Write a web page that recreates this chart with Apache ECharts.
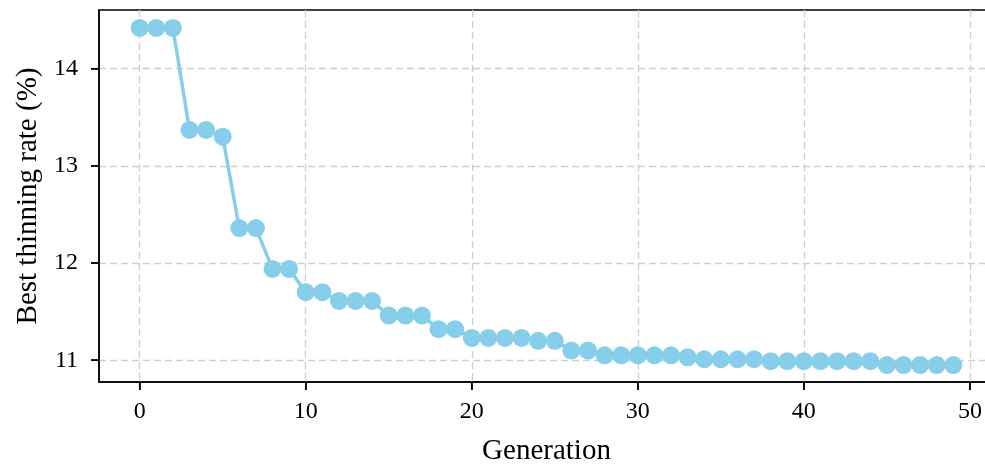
<!DOCTYPE html>
<html lang="en">
  <head>
    <meta charset="UTF-8" />
    <script src="https://cdn.jsdelivr.net/npm/echarts@6/dist/echarts.min.js"></script>
    <title>Best thinning rate</title>
    <style>
      html, body { margin: 0; padding: 0; background: #fff; }
    </style>
  </head>
  <body>
    <div id="app" style="width: 985px; height: 464px"></div>

    <script>
      // 每一代的最优稀疏率
      const generations = Array.from({ length: 50 }, (_, i) => i);
      const bestRate = [
        14.42, 14.42, 14.42, 13.37, 13.37, 13.30, 12.36, 12.36, 11.94, 11.94,
        11.70, 11.70, 11.61, 11.61, 11.61, 11.46, 11.46, 11.46, 11.32, 11.32,
        11.23, 11.23, 11.23, 11.23, 11.20, 11.20, 11.10, 11.10, 11.05, 11.05,
        11.05, 11.05, 11.05, 11.03, 11.01, 11.01, 11.01, 11.01, 10.99, 10.99,
        10.99, 10.99, 10.99, 10.99, 10.99, 10.95, 10.95, 10.95, 10.95, 10.95,
      ];
      const xTicks = [0, 10, 20, 30, 40, 50];
      const yTicks = [11, 12, 13, 14];

      const xMin = -2.45, xMax = 51.45;
      const yMin = 10.776, yMax = 14.604;

      const font = "'Liberation Serif', 'DejaVu Serif', serif";
      const gridLine = { color: "#cfcfcf", width: 1.3, type: [7, 4] };
      const spine = { show: true, onZero: false, lineStyle: { color: "#000", width: 1.5 } };
      const tick = { show: true, length: 8, inside: false, lineStyle: { color: "#000", width: 1.5 } };
      const tickLen = 8;

      // 刻度线用 custom 系列补画（朝外），位置由坐标轴换算
      const tickData = xTicks.map((v) => [v, yMin, 0]).concat(yTicks.map((v) => [xMin, v, 1]));

      const echart = echarts.init(document.getElementById("app"), null, { renderer: "canvas" });
      echart.setOption({
        animation: false,
        backgroundColor: "#fff",
        grid: {
          left: 99,
          top: 10,
          width: 895,
          height: 380,
          // 底部被 outerBounds 压回到 382 左右；右边超出画布，像原图那样被裁掉
          outerBounds: { left: -100, top: -100, right: -30, bottom: -7 },
          show: true,
          borderColor: "#000",
          borderWidth: 1.5,
          backgroundColor: "transparent",
        },
        xAxis: {
          type: "value",
          min: xMin,
          max: xMax,
          name: "Generation",
          nameLocation: "middle",
          nameGap: 55,
          nameTextStyle: { fontFamily: font, fontSize: 29, color: "#000" },
          axisLine: spine,
          axisTick: Object.assign({ customValues: xTicks }, tick),
          axisLabel: { customValues: xTicks, fontFamily: font, fontSize: 24, color: "#000", margin: 18 },
          splitLine: { show: true, lineStyle: gridLine },
        },
        yAxis: {
          type: "value",
          min: yMin,
          max: yMax,
          name: "Best thinning rate (%)",
          nameLocation: "middle",
          nameGap: 55,
          nameTextStyle: { fontFamily: font, fontSize: 29, color: "#000" },
          axisLine: spine,
          axisTick: Object.assign({ customValues: yTicks }, tick),
          axisLabel: { customValues: yTicks, fontFamily: font, fontSize: 24, color: "#000", margin: 21 },
          splitLine: { show: true, lineStyle: gridLine },
        },
        series: [
          {
            type: "line",
            data: generations.map((g, i) => [g, bestRate[i]]),
            symbol: "circle",
            symbolSize: 18,
            showSymbol: true,
            lineStyle: { color: "#87CEEB", width: 3.5 },
            itemStyle: { color: "#87CEEB" },
          },
          {
            type: "custom",
            clip: false,
            silent: true,
            z: 10,
            data: tickData,
            renderItem: function (params, api) {
              const p = api.coord([api.value(0), api.value(1)]);
              const vertical = api.value(2) === 0;
              return {
                type: "line",
                shape: vertical
                  ? { x1: p[0], y1: p[1], x2: p[0], y2: p[1] + tickLen }
                  : { x1: p[0] - tickLen, y1: p[1], x2: p[0], y2: p[1] },
                style: { stroke: "#000", lineWidth: 1.5 },
              };
            },
          },
        ],
      });
    </script>
  </body>
</html>
